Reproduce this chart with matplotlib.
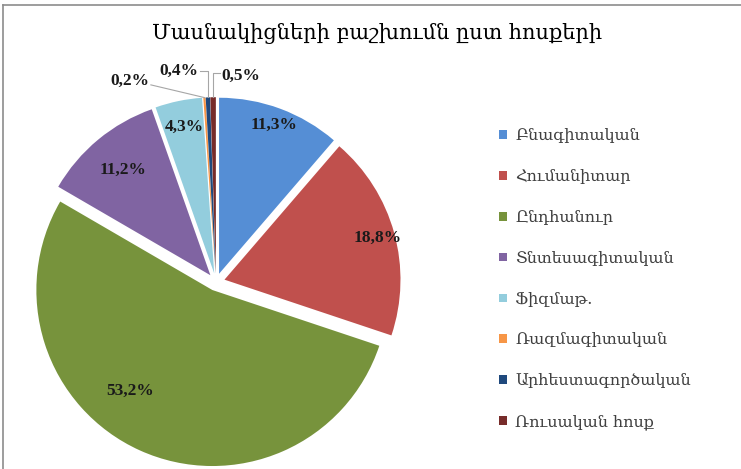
import numpy as np
import matplotlib
matplotlib.use('Agg')
import matplotlib.pyplot as plt
from matplotlib.lines import Line2D

title = 'Մասնակիցների բաշխումն ըստ հոսքերի'
categories = ['Բնագիտական', 'Հումանիտար', 'Ընդհանուր', 'Տնտեսագիտական',
              'Ֆիզմաթ.', 'Ռազմագիտական', 'Արհեստագործական', 'Ռուսական հոսք']
shares = [11.3, 18.8, 53.2, 11.2, 4.3, 0.2, 0.4, 0.5]
colors = ['#558ED5', '#C0504D', '#77933C', '#8064A2', '#93CDDD',
          '#F79646', '#1F497D', '#772C2A']

W, H = 741, 469
fig = plt.figure(figsize=(W / 100, H / 100), dpi=100)

# pie geometry in pixels
cx, cy, R = 216, 282, 176
half = 1.25 * R
ax = fig.add_axes([(cx - half) / W, (H - cy - half) / H, 2 * half / W, 2 * half / H])
ax.set_xlim(-1.25, 1.25)
ax.set_ylim(-1.25, 1.25)
ax.set_aspect('equal')
ax.axis('off')

expl = 0.05
wedges, _ = ax.pie(shares, colors=colors, startangle=90, counterclock=False,
                   explode=[expl] * len(shares), radius=1.0,
                   wedgeprops=dict(linewidth=0))

lab_font = dict(family=['Liberation Serif', 'DejaVu Serif'], fontsize=12.5,
                fontweight='bold', color='#1a1a1a')

def fmt(v):
    return ('%.1f%%' % v).replace('.', ',')

# inside labels: (radius, angle shift in degrees)
inside = {0: (0.9, 0), 1: (0.9, 0), 2: (0.74, -15), 3: (0.78, 0), 4: (0.85, 0)}
for i, w in enumerate(wedges):
    mid = np.deg2rad((w.theta1 + w.theta2) / 2)
    ox, oy = expl * np.cos(mid), expl * np.sin(mid)
    if i in inside:
        r, sh = inside[i]
        a = mid + np.deg2rad(sh)
        ax.text(ox + r * np.cos(a), oy + r * np.sin(a), fmt(shares[i]),
                ha='center', va='center', **lab_font)

# small slices with leader lines (label positions in axes data units)
small = {5: (-0.49, 1.14), 6: (-0.21, 1.20), 7: (0.14, 1.17)}
for i, (tx, ty) in small.items():
    w = wedges[i]
    mid = np.deg2rad((w.theta1 + w.theta2) / 2)
    ex = (1 + expl) * np.cos(mid)
    ey = (1 + expl) * np.sin(mid)
    ax.text(tx, ty, fmt(shares[i]), ha='center', va='center', **lab_font)
    if i == 5:
        ax.plot([tx + 0.12, ex], [ty - 0.02, ey], color='#a6a6a6', lw=0.8)
    elif i == 6:
        ax.plot([tx + 0.12, ex, ex], [ty, ty, ey], color='#a6a6a6', lw=0.8)
    else:
        ax.plot([tx - 0.12, ex, ex], [ty + 0.02, ty + 0.02, ey], color='#a6a6a6', lw=0.8)

fig.text(377 / W, 1 - 33 / H, title, ha='center', va='center',
         family=['DejaVu Serif'], fontsize=15, color='black')

leg = fig.legend(wedges, categories, loc='upper left',
                 bbox_to_anchor=(485 / W, 1 - 113 / H), frameon=False,
                 handlelength=0.45, handleheight=0.45, handletextpad=0.55,
                 labelspacing=1.49,
                 prop=dict(family=['DejaVu Serif'], size=11.5))
for t in leg.get_texts():
    t.set_color('#404040')

# chart border (left and top visible)
fig.add_artist(Line2D([3 / W, 3 / W], [0, 1 - 5 / H], color='#8c8c8c', lw=1.2))
fig.add_artist(Line2D([3 / W, 1], [1 - 5 / H, 1 - 5 / H], color='#8c8c8c', lw=1.2))

fig.savefig('out.png', dpi=100)
